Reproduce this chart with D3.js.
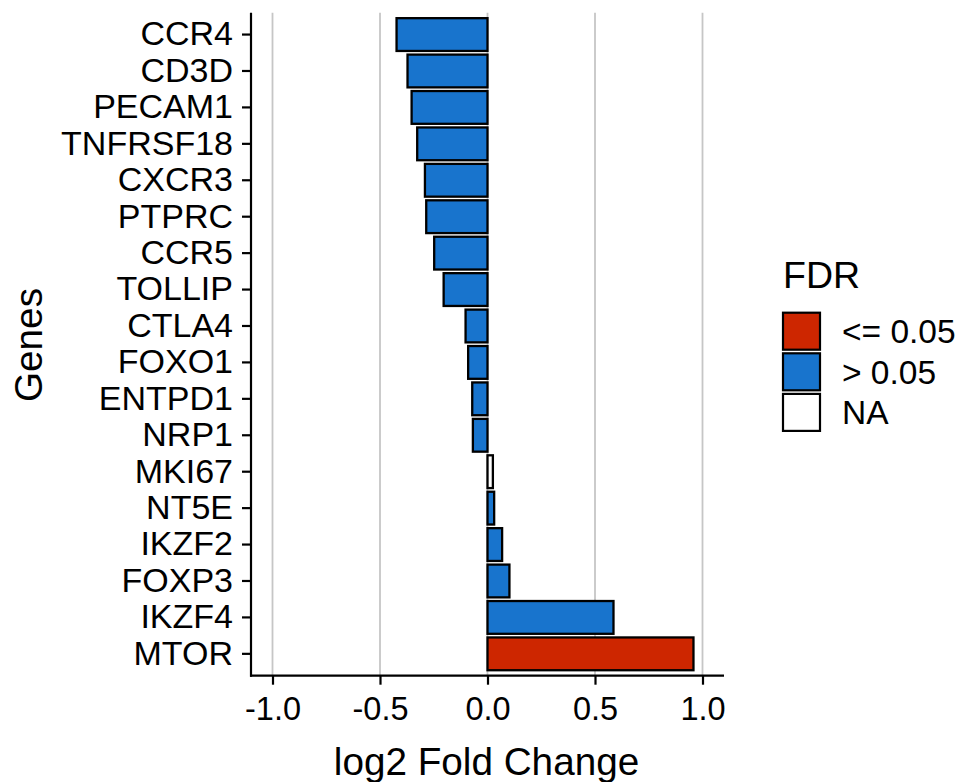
<!DOCTYPE html>
<html>
<head>
<meta charset="utf-8">
<script src="https://cdn.jsdelivr.net/npm/d3@7"></script>
<style>
  html, body { margin: 0; padding: 0; background: #ffffff; }
  svg { display: block; font-family: "Liberation Sans", Arial, sans-serif; }
</style>
</head>
<body>
<svg id="chart" width="959" height="782"></svg>
<script>
// Genes, ordered top to bottom as they appear on the y axis
const genes = ["CCR4", "CD3D", "PECAM1", "TNFRSF18", "CXCR3", "PTPRC", "CCR5", "TOLLIP",
               "CTLA4", "FOXO1", "ENTPD1", "NRP1", "MKI67", "NT5E", "IKZF2", "FOXP3", "IKZF4", "MTOR"];
// log2 fold change for each gene
const log2FC = [-0.423, -0.372, -0.353, -0.327, -0.291, -0.285, -0.248, -0.204,
                -0.102, -0.090, -0.071, -0.068, 0.025, 0.031, 0.068, 0.102, 0.586, 0.958];
// FDR class for each gene
const fdrClass = [">", ">", ">", ">", ">", ">", ">", ">",
                  ">", ">", ">", ">", "NA", ">", ">", ">", ">", "<="];
// Legend entries
const fdrKeys = ["<=", ">", "NA"];
const fdrLabels = ["<= 0.05", "> 0.05", "NA"];
const fdrColors = ["#CD2600", "#1874CD", "#FFFFFF"];
const xTicks = [-1.0, -0.5, 0.0, 0.5, 1.0];

const rows = genes.map((g, i) => ({ gene: g, value: log2FC[i], fdr: fdrClass[i] }));

const svg = d3.select("#chart");
const panel = { left: 251, right: 724, top: 12.7, bottom: 675.7 };

const x = d3.scaleLinear().domain([-1.1, 1.1]).range([panel.left, panel.right]);
const y = d3.scaleBand().domain(genes).range([panel.top, panel.bottom])
  .paddingInner(0.1).paddingOuter(0.15);
const fill = d3.scaleOrdinal().domain(fdrKeys).range(fdrColors);

// vertical grid lines at the major x ticks
svg.append("g").selectAll("line").data(xTicks).join("line")
  .attr("x1", d => x(d)).attr("x2", d => x(d))
  .attr("y1", panel.top).attr("y2", panel.bottom)
  .attr("stroke", "#c6c6c6").attr("stroke-width", 1.8);

// bars
svg.append("g").selectAll("rect").data(rows).join("rect")
  .attr("x", d => x(Math.min(0, d.value)))
  .attr("width", d => Math.abs(x(d.value) - x(0)))
  .attr("y", d => y(d.gene))
  .attr("height", y.bandwidth())
  .attr("fill", d => fill(d.fdr))
  .attr("stroke", "#000000").attr("stroke-width", 2.3);

// x axis
const xAxis = svg.append("g")
  .attr("transform", `translate(0,${panel.bottom})`)
  .call(d3.axisBottom(x).tickValues(xTicks).tickFormat(d3.format(".1f")).tickSizeOuter(0).tickSize(9).tickPadding(5));
xAxis.select(".domain").attr("stroke", "#000").attr("stroke-width", 2.2)
  .attr("d", `M${panel.left - 1},0H${panel.right}`);
xAxis.selectAll(".tick line").attr("stroke", "#000").attr("stroke-width", 2.2);
xAxis.selectAll(".tick text").attr("fill", "#000").attr("font-size", 32.5)
  .attr("font-family", "'Liberation Sans', Arial, sans-serif").attr("dy", "0.92em")
  .text(d => d3.format(".1f")(d).replace("−", "-"));

// y axis
const yAxis = svg.append("g")
  .attr("transform", `translate(${panel.left},0)`)
  .call(d3.axisLeft(y).tickSizeOuter(0).tickSize(9).tickPadding(9));
yAxis.select(".domain").attr("stroke", "#000").attr("stroke-width", 2.2)
  .attr("d", `M0,${panel.top}V${panel.bottom + 1}`);
yAxis.selectAll(".tick line").attr("stroke", "#000").attr("stroke-width", 2.2);
yAxis.selectAll(".tick text").attr("fill", "#000").attr("font-size", 34)
  .attr("font-family", "'Liberation Sans', Arial, sans-serif");

// axis titles
svg.append("text")
  .attr("x", (panel.left + panel.right) / 2 - 1).attr("y", 775)
  .attr("text-anchor", "middle").attr("font-size", 38.7).attr("fill", "#000")
  .text("log2 Fold Change");
svg.append("text")
  .attr("transform", "translate(42,345) rotate(-90)")
  .attr("text-anchor", "middle").attr("font-size", 38.7).attr("fill", "#000")
  .text("Genes");

// legend
const legend = svg.append("g").attr("transform", "translate(783,0)");
legend.append("text").attr("x", 0).attr("y", 288)
  .attr("font-size", 37.5).attr("fill", "#000").text("FDR");
const items = legend.selectAll("g.item").data(fdrKeys).join("g")
  .attr("class", "item")
  .attr("transform", (d, i) => `translate(0,${312.7 + i * 40.6})`);
items.append("rect")
  .attr("x", 0).attr("y", 0).attr("width", 37).attr("height", 37)
  .attr("fill", d => fill(d)).attr("stroke", "#000").attr("stroke-width", 2.2);
items.append("text")
  .attr("x", 59).attr("y", 18.5).attr("dy", "0.35em")
  .attr("font-size", 33.5).attr("fill", "#000")
  .text((d, i) => fdrLabels[i]);
</script>
</body>
</html>
